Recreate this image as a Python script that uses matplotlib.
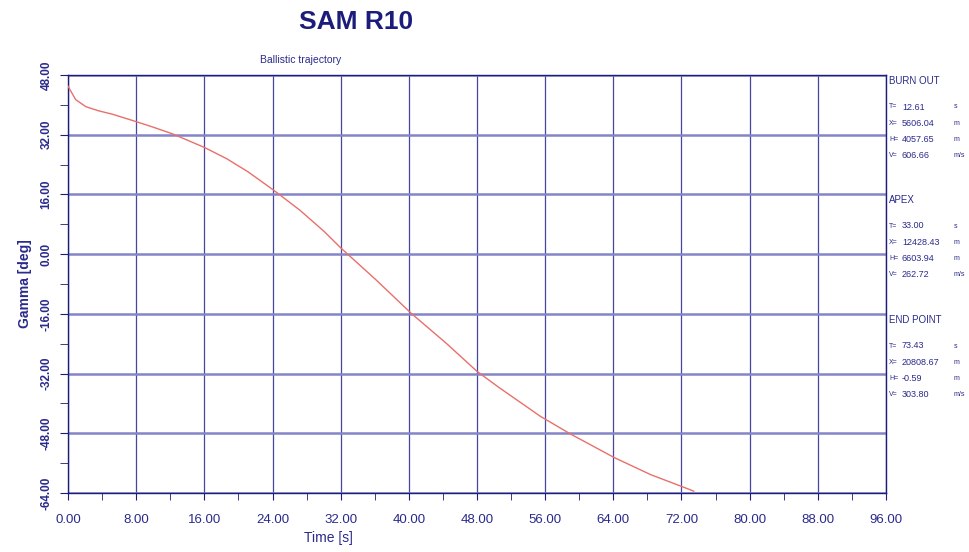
import matplotlib
matplotlib.use("Agg")
import matplotlib.pyplot as plt
import numpy as np

# Data
time_s = [0.0, 0.9, 2.1, 3.6, 5.2, 8.0, 9.9, 12.3, 16.0, 18.6, 21.1, 24.1, 27.2,
          30.1, 32.0, 36.2, 40.3, 44.4, 48.0, 50.5, 52.7, 55.4, 58.9, 64.1, 68.4, 72.2, 73.43]
gamma_deg = [45.0, 41.4, 39.5, 38.4, 37.5, 35.5, 34.1, 32.2, 28.6, 25.6, 22.1, 17.2, 11.8,
             6.0, 1.7, -7.0, -15.9, -23.9, -31.4, -35.6, -39.1, -43.4, -48.1, -54.5, -59.1, -62.4, -63.5]

x_ticks = [0, 8, 16, 24, 32, 40, 48, 56, 64, 72, 80, 88, 96]
y_ticks = [-64, -48, -32, -16, 0, 16, 32, 48]

panel_sections = ["BURN OUT", "APEX", "END POINT"]
panel_T = ["12.61", "33.00", "73.43"]
panel_X = ["5606.04", "12428.43", "20808.67"]
panel_H = ["4057.65", "6603.94", "-0.59"]
panel_V = ["606.66", "262.72", "303.80"]

navy = "#1c1c7a"
text_col = "#2a2a8c"
plt.rcParams['font.family'] = ['Liberation Sans', 'DejaVu Sans']

fig = plt.figure(figsize=(9.69, 5.52), dpi=100)
ax = fig.add_axes([68/969, 1 - 493/552, (886-68)/969, (493-75)/552])

ax.set_xlim(0, 96)
ax.set_ylim(-64, 48)

# grid
for xv in x_ticks:
    ax.axvline(xv, color="#4646a0", lw=0.9, zorder=1)
for yv in y_ticks:
    ax.axhline(yv, color="#8484c8", lw=1.8, zorder=1)

ax.plot(time_s, gamma_deg, color="#e8706a", lw=1.0, zorder=3)

ax.set_xticks(x_ticks)
ax.set_xticklabels([f"{v:.2f}" for v in x_ticks], color=text_col, fontsize=9.5)
ax.set_xticks(np.arange(0, 97, 4), minor=True)
ax.set_yticks(y_ticks)
ax.set_yticklabels([f"{v:.2f}" for v in y_ticks], color=text_col, fontsize=8.5,
                   fontweight="bold", rotation=90, va="center")
ax.set_yticks(np.arange(-64, 49, 8), minor=True)
ax.tick_params(axis="both", which="both", color=navy, direction="out")
ax.tick_params(axis="x", which="major", length=5, pad=10)
ax.tick_params(axis="x", which="minor", length=5)
ax.tick_params(axis="y", which="major", length=6, pad=5)
ax.tick_params(axis="y", which="minor", length=6)

for s in ax.spines.values():
    s.set_color(navy)
    s.set_linewidth(1.0)

ax.set_xlabel("Time [s]", color=text_col, fontsize=10, labelpad=2)
ax.xaxis.set_label_coords((328-68)/(886-68), -0.09)
ax.set_ylabel("Gamma [deg]", color=text_col, fontsize=10, fontweight="bold", labelpad=6)

fig.text(356/969, 1 - 22/552, "SAM R10", color=navy, fontsize=19, fontweight="bold",
         ha="center", va="center")
fig.text(301/969, 1 - 60/552, "Ballistic trajectory", color=text_col, fontsize=7.5,
         ha="center", va="center")

# Right-hand info panel
tops = [81, 200, 320]
for i, sec in enumerate(panel_sections):
    y0 = tops[i]
    fig.text(889/969, 1 - y0/552, sec, color=text_col, fontsize=7, ha="left", va="center")
    rows = [("T=", panel_T[i], "s"), ("X=", panel_X[i], "m"),
            ("H=", panel_H[i], "m"), ("V=", panel_V[i], "m/s")]
    for j, (lab, val, unit) in enumerate(rows):
        yy = y0 + 26 + j * 16.3
        fig.text(889/969, 1 - yy/552, lab, color=text_col, fontsize=5, ha="left", va="center")
        fig.text(902/969, 1 - yy/552, val, color=text_col, fontsize=6.5, ha="left", va="center")
        fig.text(954/969, 1 - yy/552, unit, color=text_col, fontsize=5, ha="left", va="center")

fig.savefig("out.png", dpi=100, facecolor="white")
